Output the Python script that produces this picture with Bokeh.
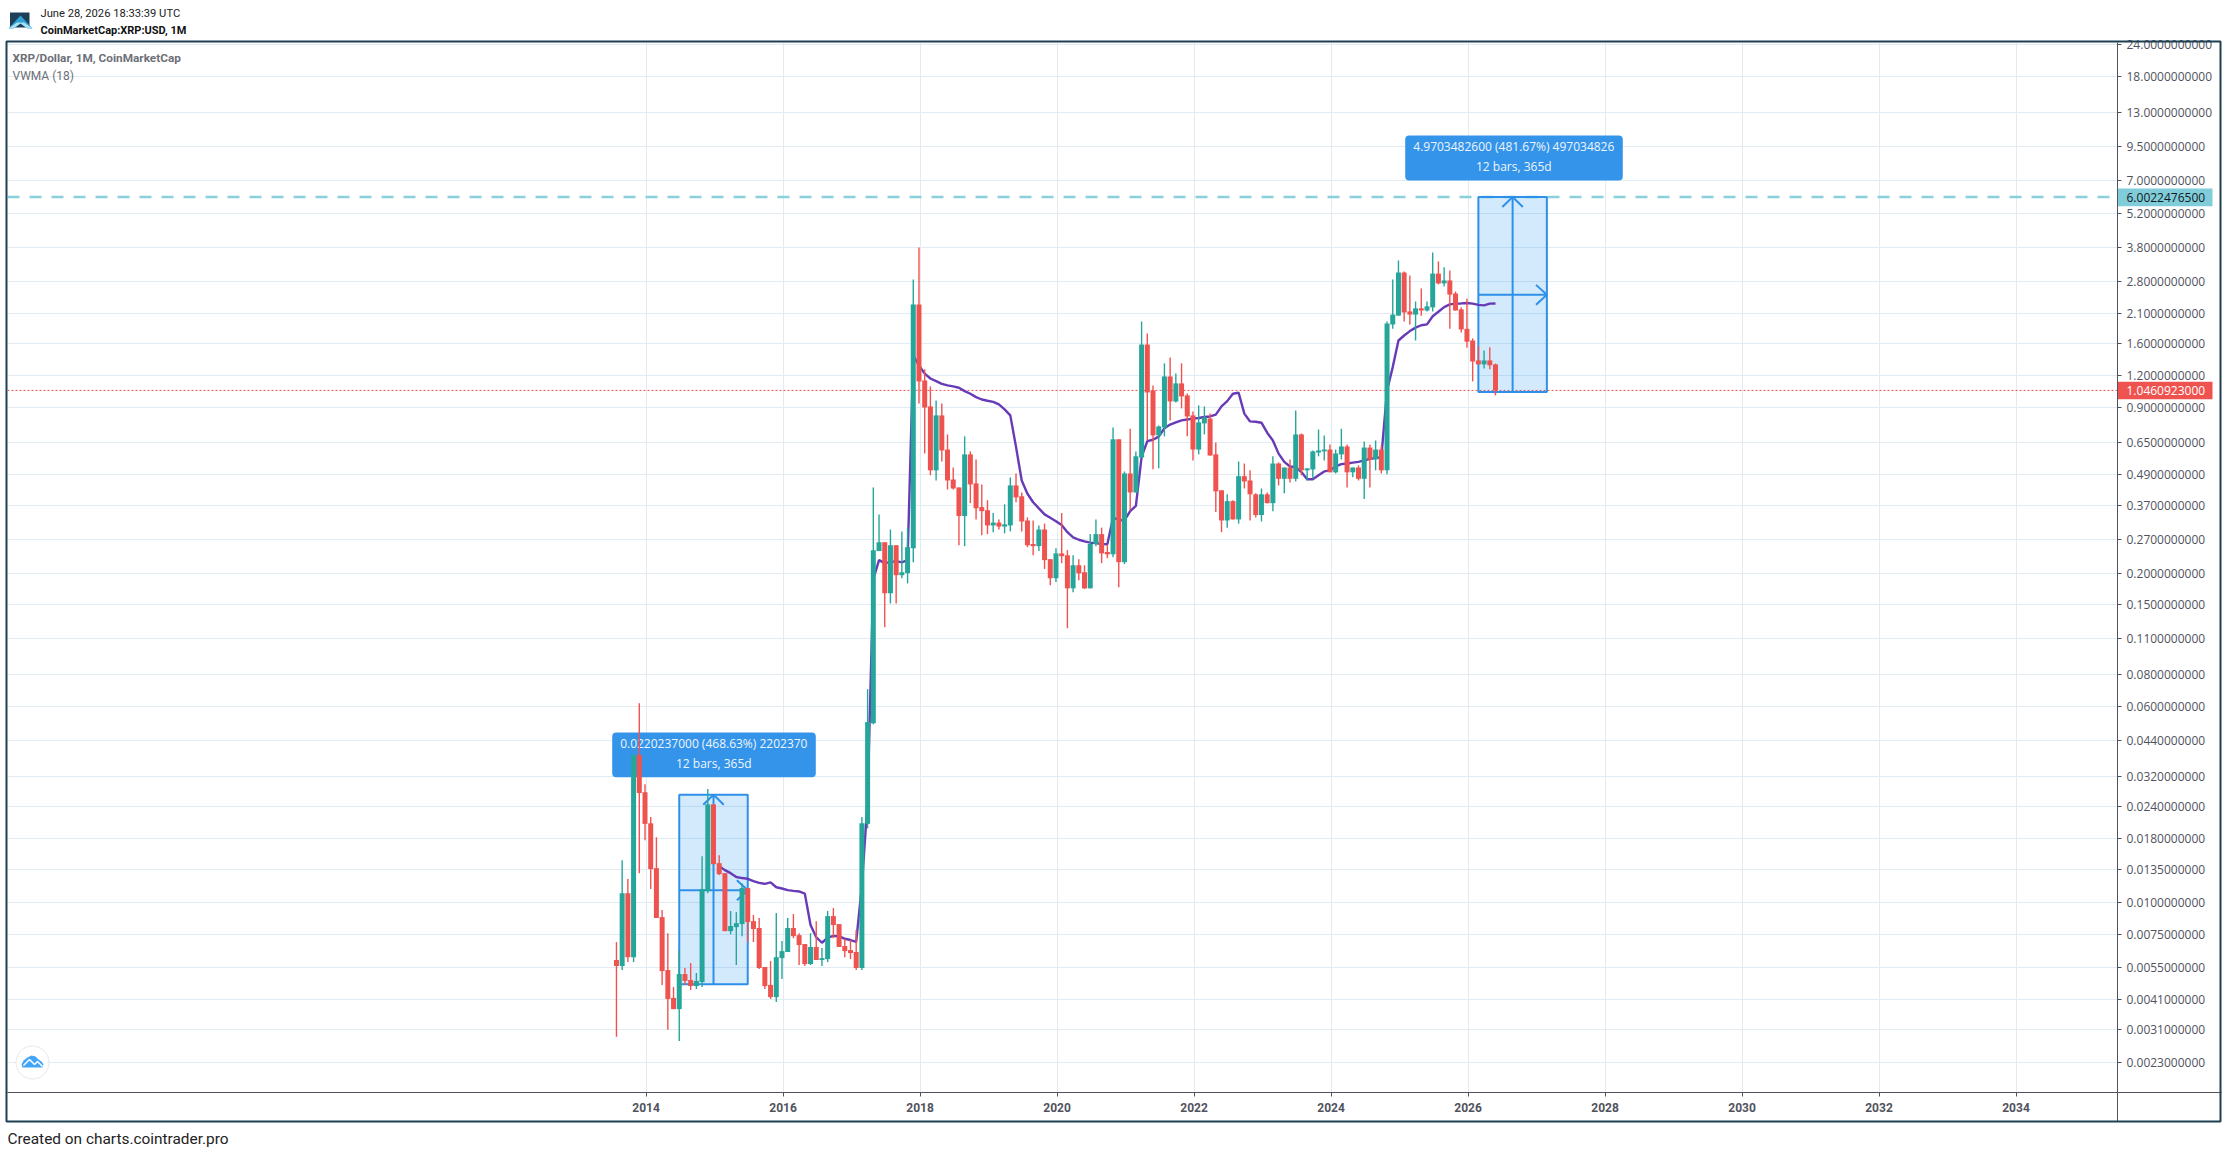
from math import exp
from bokeh.plotting import figure
from bokeh.models import FixedTicker, Span, BoxAnnotation, ColumnDataSource
from bokeh.core.properties import value
from bokeh.embed import file_html
from bokeh.resources import INLINE

# ---- data (months counted from Jan 2014 = 0) ----
month_index = list(range(-5, 150))
opens = [.00583,.00552,.0107,.00598,.0376,
 .0268,.0202,.01344,.00861,.00532,.00413,.00373,.00513,.00486,.0046,.00477,.0109,.024,.01406,.01284,.00758,
 .00786,.00808,.01121,.0083,.0078,.00547,.00465,.00416,.00593,.00627,.0078,.00731,.00674,.00562,.00656,
 .00583,.00588,.00869,.00808,.00662,.00638,.00627,.00542,.0201,.0502,.24,.26,.1636,.253,.1927,
 .1963,.2465,2.258,1.132,.894,.5,.824,.604,.46,.428,.33,.578,.444,.358,.348,
 .303,.311,.3,.303,.436,.395,.317,.256,.251,.292,.223,.1875,.235,.231,.171,
 .211,.198,.171,.256,.28,.238,.233,.663,.217,.486,.409,.562,1.569,1.034,.687,
 .738,1.174,.935,1.102,.988,.824,.604,.766,.801,.578,.417,.317,.378,.32,.474,
 .456,.402,.333,.402,.371,.532,.463,.513,.463,.693,.5,.504,.588,.594,.604,
 .491,.578,.621,.491,.513,.463,.615,.552,.604,.5,1.883,2.04,3.02,2.12,2.06,
 2.18,2.138,2.2,2.99,2.735,2.81,2.495,2.16,1.81,1.628,1.358,1.31,1.358,1.31]
closes = [.00552,.0107,.00598,.0376,.0266,
 .0201,.01332,.00854,.00527,.00409,.00373,.00513,.00482,.0046,.00482,.01111,.024,.01393,.01272,.00758,.00794,
 .00815,.01121,.00823,.00773,.00542,.0046,.00416,.00598,.00632,.0078,.00724,.00668,.00562,.00656,.00583,
 .00593,.00869,.00801,.00656,.00632,.00621,.00542,.0202,.0507,.242,.26,.1636,.253,.1927,.198,
 .2486,2.258,1.122,.885,.5,.824,.599,.456,.424,.33,.578,.44,.354,.345,.303,
 .311,.3,.306,.436,.391,.314,.253,.251,.292,.221,.1875,.235,.229,.171,.211,
 .196,.171,.256,.28,.235,.233,.663,.217,.486,.409,.568,1.569,1.015,.687,.745,
 1.174,.935,1.102,.979,.816,.604,.773,.809,.572,.413,.317,.378,.32,.474,.452,
 .402,.333,.402,.371,.532,.463,.513,.463,.693,.5,.509,.594,.599,.604,.491,
 .583,.621,.491,.513,.463,.615,.552,.604,.5,1.9,2.06,3.02,2.1,2.06,2.18,
 2.138,2.22,2.99,2.735,2.81,2.47,2.138,1.8,1.61,1.345,1.31,1.358,1.3,1.034]
highs = [.00686,.01445,.01217,.0376,.0602,
 .0288,.0214,.0178,.00918,.00744,.00456,.00638,.00542,.00567,.00518,.01496,.02757,.024,.0151,.01284,.0091,
 .00901,.01172,.01121,.00878,.00854,.00547,.00578,.00893,.00693,.00854,.00885,.00744,.00674,.00744,.0083,
 .0065,.0091,.00935,.00808,.00705,.00699,.00765,.0214,.0684,.428,.335,.26,.292,.253,.287,
 .297,2.836,3.79,1.252,1.072,.944,.918,.693,.513,.428,.681,.594,.552,.44,.381,
 .339,.32,.367,.469,.486,.409,.326,.317,.303,.308,.223,.2465,.339,.242,.231,
 .223,.211,.28,.32,.297,.253,.738,.663,.495,.73,.594,1.935,1.735,1.082,.752,
 1.322,1.395,1.207,1.322,1.006,.854,.902,.894,.839,.644,.417,.402,.381,.542,.532,
 .5,.406,.424,.409,.568,.537,.513,.552,.862,.699,.509,.599,.725,.687,.632,
 .604,.73,.632,.513,.523,.65,.632,.656,.627,1.935,2.836,3.369,3.05,2.94,2.32,
 2.612,2.32,3.62,3.34,3.17,3.076,2.54,2.2,2.385,1.66,1.55,1.487,1.53,1.32]
lows = [.0029,.00532,.00572,.00572,.01284,
 .0173,.01111,.00854,.00465,.00309,.00373,.00279,.00465,.00444,.00448,.00456,.0107,.01393,.01262,.00758,.00737,
 .00557,.00724,.00686,.00686,.00537,.00448,.00409,.00398,.0049,.00627,.00711,.00557,.00552,.00557,.00583,
 .00552,.00572,.00711,.00656,.00598,.00588,.00532,.00532,.0193,.0497,.24,.12,.149,.149,.1875,
 .179,.217,.918,.583,.478,.456,.542,.42,.42,.253,.251,.371,.32,.277,.28,
 .285,.292,.282,.287,.374,.287,.2486,.231,.24,.204,.176,.181,.215,.119,.165,
 .184,.17,.171,.251,.215,.225,.227,.1727,.213,.348,.409,.562,.656,.505,.509,
 .681,.787,.927,.878,.681,.547,.578,.693,.572,.342,.285,.297,.32,.308,.424,
 .317,.326,.314,.371,.345,.436,.406,.448,.452,.478,.456,.463,.568,.547,.491,
 .486,.552,.428,.469,.456,.385,.428,.5,.486,.482,1.81,2.04,1.935,1.883,1.628,
 2.04,2.12,2.12,2.71,2.66,1.81,2.138,1.75,1.525,1.122,1.31,1.262,1.252,.988]

vwma_index = list(range(13, 150))
vwma = [.01368,.0132,.01284,.0124,.01228,.0122,.01194,.01176,.01165,.0118,.0113,.01117,.0110,.01093,.01087,.01066,
 .00801,.00717,.00682,.00714,.00726,.00724,.00707,.00699,.00688,.01152,.0249,.1858,.221,.215,.217,.219,.2165,.221,
 1.42,1.297,1.204,1.152,1.125,1.098,1.082,1.072,1.059,1.027,1.003,.973,.952,.941,.932,.91,.87,.824,
 .619,.456,.404,.374,.354,.335,.325,.315,.304,.285,.272,.266,.262,.259,.258,.256,.2555,
 .325,.319,.317,.345,.362,.565,.652,.660,.679,.733,.758,.773,.787,.794,.80,.805,.812,.816,.830,.894,.938,1.003,1.012,
 .837,.78,.778,.771,.704,.656,.582,.54,.518,.515,.492,.461,.461,.478,.495,.50,.518,.529,.532,.536,.54,.547,.555,.56,.563,
 1.034,1.278,1.628,1.703,1.773,1.83,1.87,1.885,2.03,2.115,2.205,2.26,2.275,2.28,2.29,2.275,2.25,2.24,2.275,2.28]

tick_labels = ["24.0000000000","18.0000000000","13.0000000000","9.5000000000","7.0000000000","5.2000000000",
 "3.8000000000","2.8000000000","2.1000000000","1.6000000000","1.2000000000","0.9000000000","0.6500000000",
 "0.4900000000","0.3700000000","0.2700000000","0.2000000000","0.1500000000","0.1100000000","0.0800000000",
 "0.0600000000","0.0440000000","0.0320000000","0.0240000000","0.0180000000","0.0135000000","0.0100000000",
 "0.0075000000","0.0055000000","0.0041000000","0.0031000000","0.0023000000"]
tick_values = [24,17.886,12.894,9.474,6.949,5.148,3.779,2.775,2.075,1.58,1.18,.882,.642,.48,.362,.2656,.1951,.1473,
 .1084,.0779,.05855,.04286,.031,.02346,.01755,.01323,.0098,.00733,.00543,.00406,.00309,.0023]
year_labels = ["2014","2016","2018","2020","2022","2024","2026","2028","2030","2032","2034"]
year_ticks = [.19,24.19,48.19,72.19,96.19,120.19,144.19,168.19,192.19,216.19,240.19]

target_price = 6.0
target_text = "6.0022476500"
last_price = 1.034
last_text = "1.0460923000"
box1 = dict(left=6, right=18, top=.0262, bottom=.00468, mid=.0110)
box2 = dict(left=146, right=158, top=6.0, bottom=1.02, mid=2.465)
box1_text = ["0.0220237000 (468.63%) 2202370", "12 bars, 365d"]
box2_text = ["4.9703482600 (481.67%) 497034826", "12 bars, 365d"]

# ---- layout helpers: page pixel <-> chart coordinates, for furniture only ----
BAR0, STEP = 644.5, 5.708
def X(px): return (px - BAR0) / STEP
def Y(py): return 24 * exp(-(py - 44) / 110)

UP, DOWN = "#26a69a", "#ef5350"
BLUE, BLUE_LABEL = "#2e90e8", "#3494ea"
AXIS, FRAME, GRID = "#50535e", "#1f3f52", "#e1ecf2"
TEAL = "#80cdd9"
PAGE = {"position": "absolute", "left": "0px", "top": "0px"}

p = figure(width=2226, height=1152, frame_width=2110, frame_height=1050,
           x_range=(X(7), X(2117)), y_range=(Y(1092), Y(42)), y_axis_type="log", y_axis_location="right",
           output_backend="svg", toolbar_location=None, min_border_left=7, min_border_right=109,
           min_border_top=42, min_border_bottom=60, outline_line_color=None,
           background_fill_color="white", border_fill_color="white", styles=PAGE)

ax = p.yaxis[0]
ax.ticker = FixedTicker(ticks=tick_values, minor_ticks=[])
ax.major_label_overrides = dict(zip(tick_values, tick_labels))
ax.major_label_text_font = "Open Sans"
ax.major_label_text_font_size = "12px"
ax.major_label_text_color = AXIS
ax.axis_line_color = AXIS
ax.major_tick_line_color = AXIS
ax.major_tick_in, ax.major_tick_out = 0, 4
ax.major_label_standoff = 5
ax.minor_tick_line_color = None

bx = p.xaxis[0]
bx.ticker = FixedTicker(ticks=year_ticks, minor_ticks=[])
bx.major_label_overrides = dict(zip(year_ticks, year_labels))
bx.major_label_text_font = "Roboto"
bx.major_label_text_font_style = "bold"
bx.major_label_text_font_size = "12px"
bx.major_label_text_color = AXIS
bx.axis_line_color = AXIS
bx.major_tick_line_color = AXIS
bx.major_tick_in, bx.major_tick_out = 0, 4
bx.major_label_standoff = 6
bx.minor_tick_line_color = None

p.xgrid.ticker = FixedTicker(ticks=year_ticks, minor_ticks=[])
p.ygrid.ticker = FixedTicker(ticks=tick_values, minor_ticks=[])
p.xgrid.grid_line_color = GRID
p.ygrid.grid_line_color = GRID

# reference lines under the candles
p.add_layout(Span(location=last_price, dimension="width", line_color=DOWN, line_width=1,
                  line_dash="2 2", level="underlay"))
p.add_layout(Span(location=target_price, dimension="width", line_color="#8ad0dc", line_width=2.4,
                  line_dash="12 10", level="underlay"))

# range tools
for b in (box1, box2):
    c = (b["left"] + b["right"]) / 2
    p.quad(left=[b["left"]], right=[b["right"]], top=[b["top"]], bottom=[b["bottom"]],
           fill_color="#2196f3", fill_alpha=0.2, line_color=BLUE, line_width=2)
    p.multi_line(xs=[[c, c], [b["left"], b["right"]],
                     [c - 1.8, c, c + 1.8],
                     [b["right"] - 1.9, b["right"], b["right"] - 1.9]],
                 ys=[[b["bottom"], b["top"]], [b["mid"], b["mid"]],
                     [b["top"] / 1.095, b["top"], b["top"] / 1.095],
                     [b["mid"] * 1.095, b["mid"], b["mid"] / 1.095]],
                 line_color=BLUE, line_width=2)

# range-tool captions, beneath the candles
p.add_layout(BoxAnnotation(left=X(611.7), right=X(815.3), top=Y(732), bottom=Y(776.7), fill_color=BLUE_LABEL,
                           fill_alpha=1, line_color=None, border_radius=4, level="underlay"))
p.add_layout(BoxAnnotation(left=X(1404.7), right=X(1622.3), top=Y(135), bottom=Y(180), fill_color=BLUE_LABEL,
                           fill_alpha=1, line_color=None, border_radius=4, level="underlay"))
p.text(x=[X(713.3), X(713.3), X(1513.3), X(1513.3)], y=[Y(742.7), Y(762.7), Y(145.7), Y(165.7)],
       text=box1_text + box2_text, text_font=value("Open Sans"), text_font_size="12px", text_color="#eef5fc",
       text_align="center", text_baseline="middle")

# VWMA under the candles
p.line(vwma_index, vwma, line_color="#673ab7", line_width=2.4)

# candles
wick_colors = [UP if c >= o else DOWN for o, c in zip(opens, closes)]
src = ColumnDataSource(dict(x=month_index, high=highs, low=lows, o=opens, c=closes, color=wick_colors,
                            top=[max(a, b) for a, b in zip(opens, closes)],
                            bottom=[min(a, b) for a, b in zip(opens, closes)]))
p.segment(x0="x", y0="low", x1="x", y1="high", source=src, line_color="color", line_width=1.4)
p.vbar(x="x", width=5 / STEP, top="top", bottom="bottom", source=src, fill_color="color", line_color=None)

# ---- transparent page-sized layer for everything outside the plot area ----
o = figure(width=2226, height=1152, x_range=(0, 2226), y_range=(1152, 0), x_axis_location=None,
           y_axis_location=None, output_backend="svg", toolbar_location=None, min_border=0,
           outline_line_color=None, background_fill_color=None, border_fill_color=None, styles=PAGE)
o.grid.visible = False

def txt(px, py, s, color, size, font="Roboto", style="normal"):
    o.text(x=[px], y=[py], text=[s], text_color=color, text_font=value(font), text_font_size=size,
           text_font_style=style, text_align="left", text_baseline="middle")

def pane(l, r, t, b, **kw):
    o.quad(left=[l], right=[r], top=[t], bottom=[b], **kw)

# price tags on the axis
pane(2117.5, 2212, 188, 205.7, fill_color=TEAL, line_color=None)
pane(2117.5, 2212, 381.3, 398.7, fill_color=DOWN, line_color=None)
txt(2126, 196.7, target_text, "#131722", "12px", "Open Sans")
txt(2126, 390, last_text, "#ffffff", "12px", "Open Sans")

# legends and header
txt(40, 12.7, "June 28, 2026 18:33:39 UTC", "#222222", "11.2px")
txt(40, 30, "CoinMarketCap:XRP:USD, 1M", "#111111", "11px", style="bold")
txt(12, 57, "XRP/Dollar, 1M, CoinMarketCap", "#6d7078", "11.8px", style="bold")
txt(12, 75, "VWMA (18)", "#6d7078", "12px")
txt(7, 1138, "Created on charts.cointrader.pro", "#222222", "15.4px")

# frame pieces outside the plot area
o.segment(x0=[2117, 2117], y0=[1092, 1092], x1=[2221, 2117], y1=[1092, 1121], line_color=AXIS, line_width=1)
pane(6, 2220, 41, 1121, fill_alpha=0, line_color=FRAME, line_width=2)

# logo, top left
pane(9.5, 29, 12, 27, fill_color="#1d3f57", line_color=None)
o.patch([20, 32, 27, 20, 13, 8], [15, 28, 28, 23, 28, 28], fill_color="#2ea3d6", line_color=None)
o.patch([16.5, 23.5, 32, 27, 20, 13, 8], [22, 22, 28, 28, 23, 28, 28], fill_color="#a9e0f2", line_color=None)

# badge, bottom left
o.scatter([32], [1062], size=33, fill_color="white", line_color="#e8e8e8", line_width=1)
o.patch([21, 23, 27, 31, 35, 38, 41, 43, 42, 22], [1064, 1060, 1057, 1055, 1056, 1059, 1061, 1064, 1067, 1067],
        fill_color="#42a5f5", line_color=None)
o.line([23, 29, 34, 37, 42], [1065, 1059, 1064, 1061, 1066], line_color="white", line_width=1.5)

open("out.html", "w").write(file_html([p, o], INLINE))
